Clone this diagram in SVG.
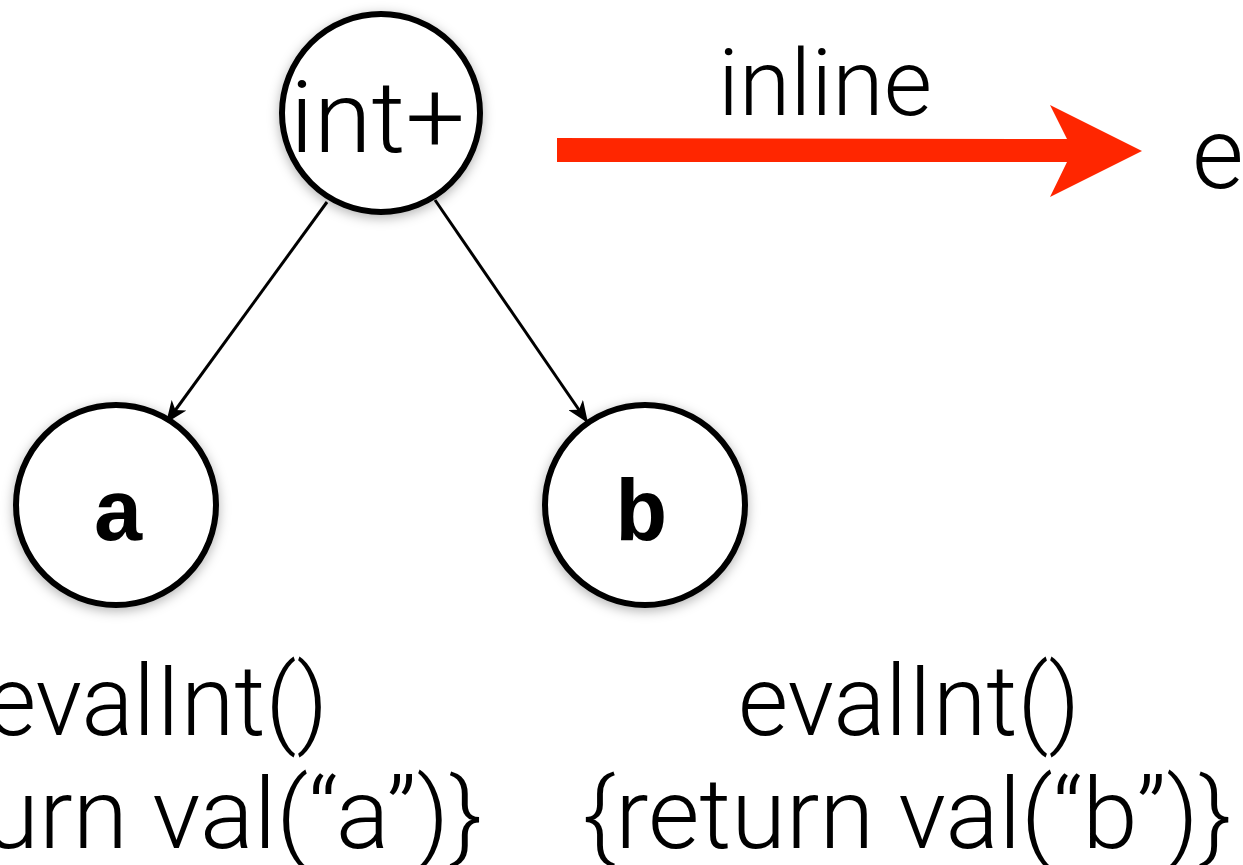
<svg xmlns="http://www.w3.org/2000/svg" width="1243" height="865" viewBox="0 0 1243 865">
  <style>
    .node circle { fill: #ffffff; stroke: #000000; stroke-width: 6; }
    .sans { font-family: Roboto, "Liberation Sans", "DejaVu Sans", sans-serif; font-weight: 300; fill: #000000; }
    .mono { font-family: "Courier New", "Liberation Mono", "DejaVu Sans Mono", monospace; font-weight: bold; fill: #000000; }
    .edge { stroke: #000000; stroke-width: 3; fill: none; }
  </style>
  <defs>
    <filter id="soft" x="-30%" y="-30%" width="160%" height="160%">
      <feDropShadow dx="0" dy="3" stdDeviation="6" flood-color="#000000" flood-opacity="0.3"/>
    </filter>
    <marker id="head" markerUnits="userSpaceOnUse" markerWidth="24" markerHeight="18" refX="22" refY="9" orient="auto">
      <path d="M0,0 L22,9 L0,18 L6,9 Z" fill="#000000"/>
    </marker>
  </defs>

  <rect width="1243" height="865" fill="#ffffff"/>

  <!-- tree edges -->
  <g id="connectors">
    <line class="edge" x1="327" y1="202" x2="166" y2="423" marker-end="url(#head)"/>
    <line class="edge" x1="435" y1="200" x2="588" y2="423" marker-end="url(#head)"/>
  </g>

  <g id="node-int-plus" class="node">
    <circle cx="381" cy="113" r="99" filter="url(#soft)"/>
    <text class="sans" x="290" y="152" font-size="100" textLength="175" lengthAdjust="spacingAndGlyphs">int+</text>
  </g>

  <g id="node-a" class="node">
    <circle cx="116" cy="505" r="100" filter="url(#soft)"/>
    <text class="mono" x="92" y="540" font-size="88">a</text>
  </g>

  <g id="node-b" class="node">
    <circle cx="645" cy="505" r="100" filter="url(#soft)"/>
    <text class="mono" x="615" y="540" font-size="88">b</text>
  </g>

  <!-- inline transformation arrow -->
  <g id="inline-arrow">
    <path d="M557,138 L1067,139 L1050,105 L1142,151 L1050,197 L1067,162 L557,162 Z" fill="#ff2600"/>
    <text class="sans" x="718" y="115" font-size="92" textLength="214" lengthAdjust="spacingAndGlyphs">inline</text>
    <text class="sans" x="1192" y="188" font-size="100">e</text>
  </g>

  <!-- evaluation code under the leaves -->
  <g id="code-a">
    <text class="sans" x="157" y="735" font-size="98" text-anchor="middle" textLength="342" lengthAdjust="spacingAndGlyphs">evalInt()</text>
    <text class="sans" x="158" y="848" font-size="98" text-anchor="middle" textLength="649" lengthAdjust="spacingAndGlyphs">{return val(“a”)}</text>
  </g>
  <g id="code-b">
    <text class="sans" x="909" y="735" font-size="98" text-anchor="middle" textLength="342" lengthAdjust="spacingAndGlyphs">evalInt()</text>
    <text class="sans" x="907" y="848" font-size="98" text-anchor="middle" textLength="649" lengthAdjust="spacingAndGlyphs">{return val(“b”)}</text>
  </g>
</svg>
